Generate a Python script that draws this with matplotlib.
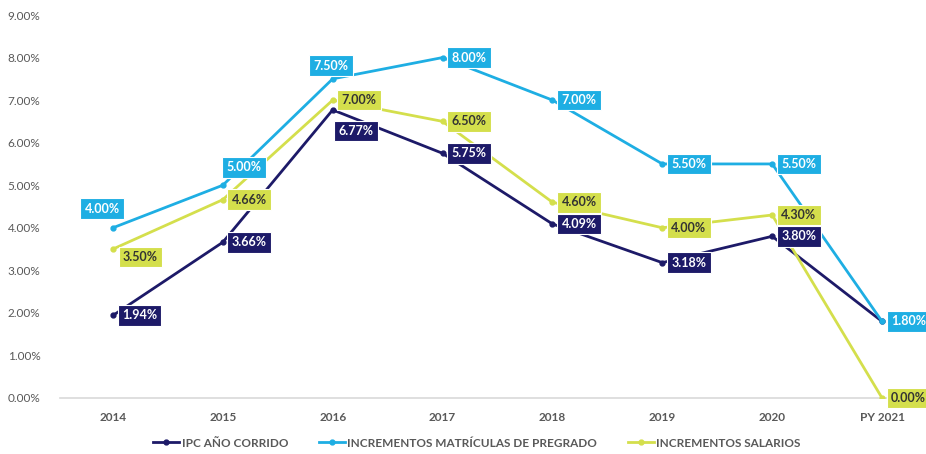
import matplotlib
matplotlib.use("Agg")
import matplotlib.pyplot as plt
from matplotlib.ticker import FuncFormatter

plt.rcParams['font.family'] = ['Lato', 'DejaVu Sans']

anios = ['2014', '2015', '2016', '2017', '2018', '2019', '2020', 'PY 2021']
ipc = [1.94, 3.66, 6.77, 5.75, 4.09, 3.18, 3.80, 1.80]
matriculas = [4.00, 5.00, 7.50, 8.00, 7.00, 5.50, 5.50, 1.80]
salarios = [3.50, 4.66, 7.00, 6.50, 4.60, 4.00, 4.30, 0.00]

# donde va cada etiqueta: r = derecha, a = arriba, al = arriba izq, ar = arriba der, br = abajo der, n = nada
pos_ipc = ['r', 'r', 'br', 'r', 'r', 'r', 'r', 'n']
pos_mat = ['al', 'ar', 'a', 'r', 'r', 'r', 'r', 'r']
pos_sal = ['br', 'r', 'r', 'r', 'r', 'r', 'r', 'r']

c_ipc = '#1d1a68'
c_mat = '#1eaee3'
c_sal = '#d4df4c'

offsets = {
    'r': ((9, 0), 'left', 'center'),
    'a': ((-2, 13), 'center', 'center'),
    'al': ((-11, 19), 'center', 'center'),
    'ar': ((21, 18), 'center', 'center'),
    'br': ((23, -21), 'center', 'center') ,
}

fig = plt.figure(figsize=(9.26, 4.54), dpi=100)
ax = fig.add_axes([60/926, 56/454, 866/926, 383/454])

x = list(range(len(anios)))


def etiquetas(vals, posiciones, color, txtcolor, z):
    for i, (v, p) in enumerate(zip(vals, posiciones)):
        if p == 'n':
            continue
        off, ha, va = offsets[p]
        if p == 'br' and i == 0:
            off = (10, -8)
            ha = 'left'
        ax.annotate('%.2f%%' % v, (i, v), xytext=off, textcoords='offset pixels',
                    ha=ha, va=va, fontsize=9, fontweight='bold', color=txtcolor,
                    bbox=dict(boxstyle='square,pad=0.35', fc=color, ec='white', lw=0.8),
                    zorder=z, annotation_clip=False)


ax.plot(x, ipc, color=c_ipc, lw=2, marker='o', ms=3.5, label='IPC AÑO CORRIDO', zorder=3)
ax.plot(x, matriculas, color=c_mat, lw=2, marker='o', ms=3.5,
        label='INCREMENTOS MATRÍCULAS DE PREGRADO', zorder=3)
ax.plot(x, salarios, color=c_sal, lw=2, marker='o', ms=3.5, label='INCREMENTOS SALARIOS', zorder=3)

etiquetas(ipc, pos_ipc, c_ipc, 'white', 5)
etiquetas(salarios, pos_sal, c_sal, '#333333', 6)
etiquetas(matriculas, pos_mat, c_mat, 'white', 7)

ax.set_xlim(-0.482, 7.40)
ax.set_ylim(0, 9)
ax.set_yticks(range(0, 10))
ax.yaxis.set_major_formatter(FuncFormatter(lambda v, p: '%.2f%%' % v))
ax.set_xticks(x)
ax.set_xticklabels(anios, fontweight='bold')

for s in ['top', 'right', 'left']:
    ax.spines[s].set_visible(False)
ax.spines['bottom'].set_color('#d9d9d9')
ax.spines['bottom'].set_linewidth(1.2)
ax.tick_params(axis='both', length=0, colors='#595959', labelsize=8.5)
ax.tick_params(axis='x', pad=10)
ax.tick_params(axis='y', pad=14)

leg = fig.legend(loc='center', bbox_to_anchor=(0.515, 0.024), ncol=3, frameon=False,
                 fontsize=8.5, handlelength=2.2, columnspacing=2.6, handletextpad=0.2)
for t in leg.get_texts():
    t.set_color('#595959')
    t.set_fontweight('bold')

fig.savefig('out.png', dpi=100)
